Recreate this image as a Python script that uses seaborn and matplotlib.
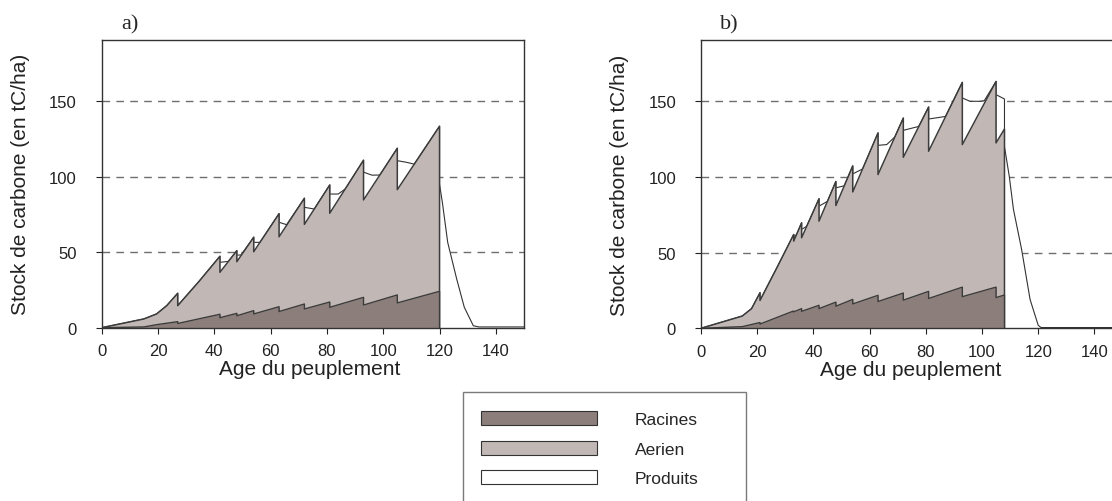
import numpy as np
import matplotlib
matplotlib.use("Agg")
import matplotlib.pyplot as plt
import seaborn as sns
from matplotlib.patches import Patch, Rectangle

# ---------------- data ----------------
# Panel a) : cumulative tops of the stacked bands (tC/ha) versus stand age
racines_a_age = [0, 15, 19.5, 27, 27, 42, 42, 48, 48, 54, 54, 63, 63, 72, 72, 81, 81, 93, 93, 105, 105, 120, 120]
racines_a = [0, 0.5, 2.0, 4.0, 2.8, 8.9, 6.6, 9.5, 7.9, 11.3, 9.1, 13.9, 10.7, 15.7, 12.4, 17.0, 13.5, 20.1, 15.0, 21.7, 16.4, 24.1, 0]

aerien_a_age = [0, 15, 19.5, 23.1, 27, 27, 34.5, 42, 42, 48, 48, 54, 54, 63, 63, 72, 72, 81, 81, 93, 93, 105, 105, 120, 120]
aerien_a = [0, 5.8, 9.1, 14.6, 22.8, 14.6, 30.5, 47.3, 36.7, 51.0, 43.7, 59.9, 50.3, 75.5, 60.2, 85.7, 68.4, 94.5, 75.8, 110.9, 84.6, 118.8, 91.4, 133.4, 0]

produits_a_age = [0, 15, 19.5, 23.1, 27, 27, 34.5, 42, 42, 45, 48, 48, 49.5, 54, 54, 56.2, 63, 63, 65.7, 72, 72, 75.5, 81, 81, 84, 86.6,
                  93, 93, 96, 98.8, 105, 105, 108.3, 111, 120, 120, 121, 122.9, 126.1, 128.8, 132, 134, 150]
produits_a = [0, 5.8, 9.1, 14.6, 22.8, 14.6, 30.5, 47.3, 43.3, 43.9, 51.0, 48.0, 48.2, 59.9, 56.5, 56.5, 75.5, 69.8, 68.2, 85.7, 79.7, 78.6,
              94.5, 88.5, 88.5, 92.0, 110.9, 103.0, 101.0, 101.1, 118.8, 110.6, 109.5, 108.3, 133.4, 95.0, 83.0, 56.5, 32.2, 13.5, 1.3, 0.5, 0.5]

# Panel b)
racines_b_age = [0, 14.7, 21, 21, 32.9, 32.9, 35.8, 35.8, 42, 42, 48, 48, 54, 54, 63, 63, 72, 72, 81, 81, 93, 93, 105, 105, 108, 108]
racines_b = [0, 1.1, 3.8, 2.8, 11.4, 10.8, 13.0, 11.2, 15.2, 13.0, 17.3, 14.6, 19.1, 16.1, 21.8, 17.7, 23.3, 18.6, 24.4, 19.7, 27.2, 20.9, 27.2, 20.3, 22.0, 0]

aerien_b_age = [0, 14.7, 18, 21, 21, 27, 33, 33, 35.8, 35.8, 42, 42, 48, 48, 54, 54, 63, 63, 72, 72, 81, 81, 93, 93, 105, 105, 108, 108]
aerien_b = [0, 8.1, 13.0, 23.5, 18.4, 40.0, 62.0, 57.6, 69.7, 59.8, 85.6, 70.8, 97.0, 81.1, 107.3, 90.1, 129.1, 101.6, 138.9, 113.0,
            146.2, 117.0, 162.5, 121.4, 163.1, 122.5, 131.7, 0]

produits_b_age = [0, 14.7, 18, 21, 21, 27, 33, 33, 34, 35.8, 35.8, 37.6, 42, 42, 45, 48, 48, 51, 54, 54, 57.5, 63, 63, 66.1, 69,
                  72, 72, 77.5, 81, 81, 85, 87, 93, 93, 95.7, 99.3, 100.8, 105, 105, 108, 108, 109.7, 111.2, 114.1, 117.1, 120, 121, 150]
produits_b = [0, 8.1, 13.0, 23.5, 18.4, 40.0, 62.0, 60.5, 61.9, 69.7, 65.3, 67.4, 85.6, 80.7, 83.9, 97.0, 92.8, 94.2, 107.3, 102.0, 105.3,
              129.1, 120.9, 121.4, 126.5, 138.9, 130.8, 133.4, 146.2, 138.3, 139.4, 140.0, 162.5, 152.2, 150.0, 150.0, 150.4, 163.1,
              154.4, 151.5, 120.0, 100.5, 78.5, 52.1, 19.1, 2.0, 0.5, 0.5]

x_ticks = [0, 20, 40, 60, 80, 100, 120, 140]
y_ticks = [0, 50, 100, 150]
legend_labels = ["Racines", "Aerien", "Produits"]

# ---------------- style ----------------
C_RAC = "#8c7f7b"
C_AER = "#c1b8b5"
C_EDGE = "#3c3c3c"

sns.set_theme(style="white")
plt.rcParams["font.family"] = ["Liberation Sans", "DejaVu Sans"]

W, H = 1112, 502
fig = plt.figure(figsize=(W / 100, H / 100), dpi=100)
axa = fig.add_axes([101.7 / W, (H - 328.7) / H, 422.3 / W, 287.7 / H])
axb = fig.add_axes([701 / W, (H - 329.3) / H, 421.5 / W, 288.3 / H])


def draw(ax, r_age, r_val, a_age, a_val, t_age, t_val):
    for y in (50, 100, 150):
        ax.axhline(y, color="#6e6e6e", lw=1.0, ls=(0, (5.5, 4.5)), zorder=1)
    # products (white) on top of the canopy
    ax.fill_between(t_age, 0, t_val, color="white", lw=0, zorder=2)
    sns.lineplot(x=t_age, y=t_val, ax=ax, estimator=None, sort=False,
                 color="#333333", lw=0.8, zorder=3)
    # above-ground
    ax.fill_between(a_age, 0, a_val, color=C_AER, lw=0, zorder=4)
    sns.lineplot(x=a_age, y=a_val, ax=ax, estimator=None, sort=False,
                 color=C_EDGE, lw=1.1, zorder=5)
    # roots
    ax.fill_between(r_age, 0, r_val, color=C_RAC, lw=0, zorder=6)
    sns.lineplot(x=r_age, y=r_val, ax=ax, estimator=None, sort=False,
                 color=C_EDGE, lw=1.0, zorder=7)

    ax.set_xlim(0, 150)
    ax.set_ylim(0, 190.5)
    ax.set_xticks(x_ticks)
    ax.set_yticks(y_ticks)
    ax.tick_params(axis="x", direction="out", length=4.5, width=0.8, pad=6.5,
                   labelsize=12, colors="#222222", bottom=True)
    ax.tick_params(axis="y", direction="out", length=4.5, width=0.8, pad=13.5,
                   labelsize=12, colors="#222222", left=True)
    for s in ax.spines.values():
        s.set_color("#333333")
        s.set_linewidth(1.0)
        s.set_zorder(10)
    ax.grid(False)
    ax.set_xlabel("Age du peuplement", fontsize=15, color="#222222")
    ax.set_ylabel("Stock de carbone (en tC/ha)", fontsize=15, color="#222222")


draw(axa, racines_a_age, racines_a, aerien_a_age, aerien_a, produits_a_age, produits_a)
draw(axb, racines_b_age, racines_b, aerien_b_age, aerien_b, produits_b_age, produits_b)

axa.xaxis.set_label_coords((310 - 101.7) / 422.3, -0.11)
axb.xaxis.set_label_coords((911 - 701) / 421.5, -0.11)
axa.yaxis.set_label_coords(-0.17, 0.5)
axb.yaxis.set_label_coords(-0.17, 0.5)

serif = ["Liberation Serif", "DejaVu Serif"]
fig.text(130 / W, 1 - 25 / H, "a)", family=serif, fontsize=16, ha="center", va="center")
fig.text(729 / W, 1 - 25 / H, "b)", family=serif, fontsize=16, ha="center", va="center")

# legend
handles = [Patch(facecolor=C_RAC, edgecolor="#333333", lw=0.8),
           Patch(facecolor=C_AER, edgecolor="#333333", lw=0.8),
           Patch(facecolor="white", edgecolor="#333333", lw=0.8)]
fs_px = 12.5 * 100 / 72
fig.legend(handles, legend_labels, loc="upper left",
           bbox_to_anchor=(481 / W, 1 - 412 / H), frameon=False, fontsize=12.5,
           handlelength=116 / fs_px, handleheight=15 / fs_px, handletextpad=38 / fs_px,
           labelspacing=0.78, borderpad=0, borderaxespad=0)
fig.patches.append(Rectangle((463 / W, -0.05), (746 - 463) / W, (H - 393) / H + 0.05,
                             transform=fig.transFigure, fill=False, ec="#7a7a7a", lw=1.0))

fig.savefig("out.png", dpi=100)
